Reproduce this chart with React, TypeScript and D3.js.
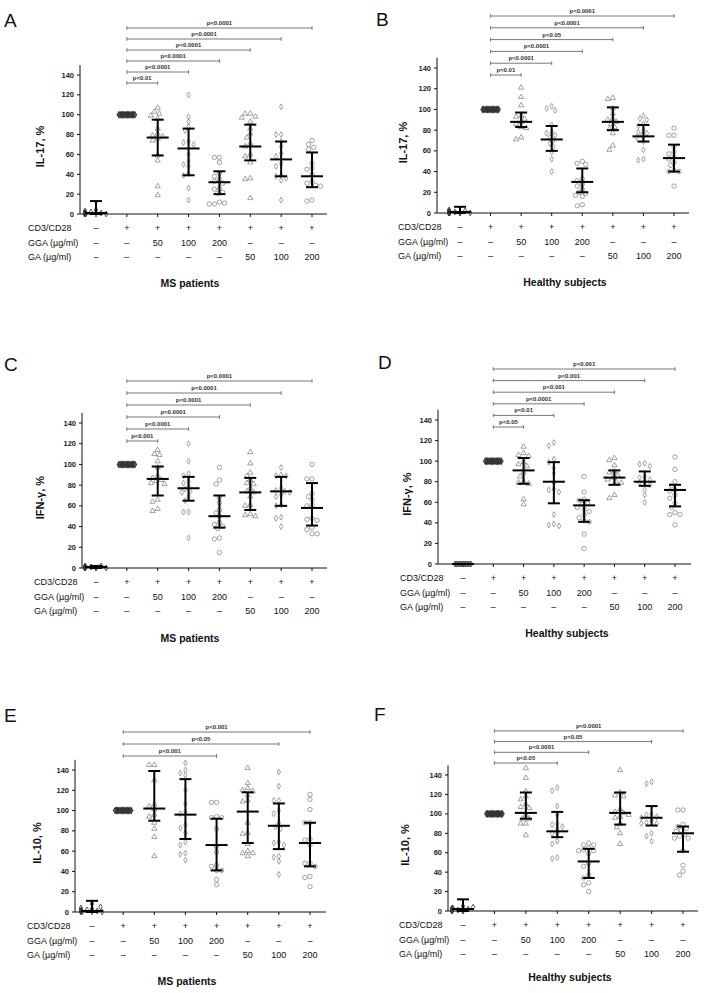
import * as d3 from "d3";

// group order: unstimulated, CD3/CD28, GGA 50/100/200, GA 50/100/200
const shapes = ["diamond", "diamond", "triangle", "diamond", "circle", "triangle", "diamond", "circle"];
const rowLabels = ["CD3/CD28", "GGA (µg/ml)", "GA (µg/ml)"];
const cd3Row = ["–", "+", "+", "+", "+", "+", "+", "+"];
const ggaRow = ["–", "–", "50", "100", "200", "–", "–", "–"];
const gaRow = ["–", "–", "–", "–", "–", "50", "100", "200"];
const yTicks = [0, 20, 40, 60, 80, 100, 120, 140];

const stim = [100, 100, 100, 100, 100, 100, 100, 100, 100, 100, 100, 100, 100, 100];

// A: IL-17, MS patients
const il17MS = [
  [4, 2, 1, 0, 0, 0, 1, 2, 0, 0, 1, 3],
  stim,
  [107, 103, 101, 99, 96, 86, 81, 79, 78, 76, 74, 59, 54, 28, 19],
  [120, 98, 93, 88, 84, 73, 72, 70, 60, 53, 50, 48, 41, 39, 26, 14],
  [57, 57, 52, 41, 38, 35, 33, 31, 26, 25, 22, 21, 12, 10, 11, 10],
  [101, 101, 98, 97, 93, 86, 81, 77, 71, 68, 60, 58, 52, 36, 35, 16],
  [108, 80, 80, 73, 68, 61, 58, 51, 48, 39, 38, 36, 34, 14],
  [74, 70, 67, 65, 51, 46, 45, 40, 33, 31, 29, 28, 14, 13],
];
const il17MSBars = [[1, 0, 13], null, [77, 59, 95], [66, 39, 86], [32, 20, 43], [68, 54, 90], [55, 38, 73], [38, 27, 62]];
const il17MSSig = [[2, "p<0.01"], [3, "p<0.0001"], [4, "p<0.0001"], [5, "p<0.0001"], [6, "p<0.0001"], [7, "p<0.0001"]];

// B: IL-17, healthy subjects
const il17HS = [
  [0, 1, 2, 0, 0, 1, 3, 0, 0, 2, 1, 0],
  stim,
  [121, 112, 104, 94, 93, 91, 88, 86, 83, 82, 73, 71],
  [103, 101, 99, 85, 78, 77, 75, 73, 70, 67, 64, 59, 52, 40],
  [50, 48, 47, 33, 31, 28, 26, 23, 20, 19, 17, 16, 8, 7],
  [111, 110, 101, 96, 91, 90, 88, 86, 83, 81, 77, 65, 61],
  [94, 91, 90, 86, 84, 80, 78, 77, 75, 73, 69, 61, 52, 51],
  [82, 75, 75, 64, 59, 57, 54, 52, 49, 46, 41, 40, 40, 26],
];
const il17HSBars = [[1, 0, 6], null, [88, 83, 97], [71, 60, 84], [30, 20, 43], [88, 80, 102], [74, 69, 85], [53, 40, 66]];
const il17HSSig = [[2, "p<0.01"], [3, "p<0.0001"], [4, "p<0.0001"], [5, "p<0.05"], [6, "p<0.0001"], [7, "p<0.0001"]];

// C: IFN-γ, MS patients
const ifnMS = [
  [0, 1, 2, 1, 0, 0, 1, 2, 0, 1, 0, 1],
  stim,
  [114, 110, 109, 103, 97, 89, 87, 85, 84, 82, 81, 66, 64, 57, 55],
  [120, 103, 91, 89, 84, 82, 79, 76, 74, 73, 69, 65, 54, 54, 29],
  [97, 85, 81, 68, 63, 56, 53, 50, 44, 42, 40, 38, 29, 28, 15],
  [112, 101, 92, 89, 85, 82, 81, 77, 74, 73, 69, 61, 60, 52, 51, 50],
  [97, 90, 89, 89, 77, 75, 74, 73, 71, 69, 61, 60, 49, 48, 40],
  [100, 86, 86, 72, 69, 66, 61, 60, 48, 47, 46, 39, 37, 33, 33],
];
const ifnMSBars = [[1, 0, 2], null, [86, 70, 98], [77, 65, 88], [50, 39, 70], [73, 56, 87], [74, 60, 88], [58, 41, 82]];
const ifnMSSig = [[2, "p<0.001"], [3, "p<0.0001"], [4, "p<0.0001"], [5, "p<0.0001"], [6, "p<0.0001"], [7, "p<0.0001"]];

// D: IFN-γ, healthy subjects
const ifnHS = [
  [0, 0, 0, 0, 0, 0, 0, 0, 0, 0, 0, 0],
  stim,
  [114, 108, 106, 105, 99, 97, 95, 89, 85, 80, 79, 78, 63, 58],
  [118, 115, 102, 99, 93, 88, 79, 73, 72, 70, 48, 39, 38, 37],
  [85, 70, 63, 62, 59, 58, 55, 53, 51, 48, 45, 42, 41, 29, 15],
  [103, 101, 96, 90, 89, 86, 84, 82, 80, 79, 67, 64],
  [98, 97, 95, 85, 84, 82, 80, 79, 77, 72, 67, 60],
  [104, 92, 80, 76, 72, 71, 67, 64, 59, 55, 50, 48, 48, 38],
];
const ifnHSBars = [[0, 0, 0], null, [91, 78, 103], [80, 59, 99], [57, 41, 62], [84, 77, 91], [80, 76, 90], [72, 56, 77]];
const ifnHSSig = [[2, "p<0.05"], [3, "p<0.01"], [4, "p<0.0001"], [5, "p<0.001"], [6, "p<0.001"], [7, "p<0.001"]];

// E: IL-10, MS patients
const il10MS = [
  [8, 3, 2, 1, 0, 0, 1, 2, 0, 4, 1, 5],
  stim,
  [145, 145, 130, 106, 104, 101, 96, 94, 88, 82, 74, 55],
  [147, 140, 137, 135, 120, 107, 99, 97, 86, 83, 78, 69, 66, 58, 57, 51],
  [108, 108, 94, 93, 93, 82, 64, 59, 46, 45, 41, 41, 32, 27],
  [142, 127, 122, 120, 119, 115, 110, 109, 88, 78, 77, 67, 60, 58, 58, 55],
  [138, 124, 110, 110, 100, 97, 88, 84, 82, 69, 68, 66, 55, 54, 50, 37],
  [116, 111, 101, 88, 88, 72, 71, 66, 48, 48, 45, 35, 34, 25],
];
const il10MSBars = [[1, 0, 11], null, [102, 90, 139], [96, 72, 131], [66, 41, 92], [99, 68, 118], [85, 62, 107], [68, 45, 88]];
const il10MSSig = [[4, "p<0.001"], [6, "p<0.05"], [7, "p<0.001"]];

// F: IL-10, healthy subjects
const il10HS = [
  [0, 1, 2, 3, 5, 4, 1, 0, 0, 2, 1, 3],
  stim,
  [147, 137, 123, 118, 115, 110, 107, 106, 99, 95, 95, 90, 90, 78],
  [127, 124, 108, 99, 90, 89, 87, 85, 80, 80, 72, 69, 55, 54],
  [70, 68, 68, 65, 63, 62, 62, 59, 49, 46, 37, 34, 29, 27, 20],
  [145, 122, 119, 118, 105, 102, 101, 99, 97, 96, 90, 86, 80, 69],
  [133, 131, 100, 99, 97, 96, 93, 91, 90, 90, 80, 77, 72],
  [104, 104, 89, 87, 85, 83, 82, 79, 77, 75, 75, 62, 47, 41, 37],
];
const il10HSBars = [[2, 0, 12], null, [101, 95, 122], [82, 76, 102], [51, 34, 64], [101, 89, 122], [96, 88, 108], [80, 61, 87]];
const il10HSSig = [[3, "p<0.05"], [4, "p<0.0001"], [6, "p<0.05"], [7, "p<0.0001"]];

// panel placement (pixels)
const layouts = {
  A: { lx: 4, ly: 27, axisX: 80, y0: 214, y140: 75, g0: 96, g7: 312, xEnd: 327, rowX: 28, tx: 190, ty: 287, ylx: 40, brBottom: 83, brStep: 11 },
  B: { lx: 376, ly: 26, axisX: 437, y0: 213, y140: 68, g0: 460, g7: 674, xEnd: 689, rowX: 398, tx: 565, ty: 286, ylx: 403, brBottom: 75, brStep: 11.8 },
  C: { lx: 4, ly: 371, axisX: 82, y0: 568, y140: 423, g0: 96, g7: 312, xEnd: 327, rowX: 34, tx: 190, ty: 642, ylx: 40, brBottom: 441, brStep: 12 },
  D: { lx: 378, ly: 369, axisX: 438, y0: 564, y140: 420, g0: 463, g7: 675, xEnd: 691, rowX: 400, tx: 567, ty: 637, ylx: 407, brBottom: 427, brStep: 11.6 },
  E: { lx: 4, ly: 722, axisX: 75, y0: 912, y140: 770, g0: 92, g7: 310, xEnd: 326, rowX: 27, tx: 187, ty: 985, ylx: 37, brBottom: 756, brStep: 12 },
  F: { lx: 374, ly: 721, axisX: 448, y0: 911, y140: 775, g0: 463, g7: 683, xEnd: 698, rowX: 399, tx: 570, ty: 981, ylx: 405, brBottom: 763, brStep: 10.7 },
};

const FONT = "Arial, 'Liberation Sans', sans-serif";
const symType = { diamond: d3.symbolDiamond, triangle: d3.symbolTriangle, circle: d3.symbolCircle };
const symSize = { diamond: 10, triangle: 12, circle: 15 };

// simple beeswarm: push overlapping points sideways
function swarm(ys: number[]) {
  if (ys.every((v) => v === ys[0]) && ys.length > 4) {
    return ys.map((_, i) => -8 + (16 * i) / (ys.length - 1));
  }
  const placed: { y: number; dx: number }[] = [];
  return ys.map((py) => {
    let best = 0;
    for (let k = 0; k < 16; k++) {
      const dx = (k % 2 ? -1 : 1) * Math.ceil(k / 2) * 1.7;
      if (placed.every((p) => Math.hypot(p.dx - dx, p.y - py) >= 4.6)) { best = dx; break; }
      best = dx;
    }
    best = Math.max(-11, Math.min(11, best));
    placed.push({ y: py, dx: best });
    return best;
  });
}

function Panel({ L, letter, yLabel, title, data, bars, sig }: any) {
  const y = d3.scaleLinear().domain([0, 140]).range([L.y0, L.y140]);
  const x = d3.scalePoint<number>().domain(d3.range(8)).range([L.g0, L.g7]);
  const rows = [cd3Row, ggaRow, gaRow];
  return (
    <g fontFamily={FONT}>
      <text x={L.lx} y={L.ly} fontSize={19} fill="#111">{letter}</text>

      {/* significance brackets */}
      {sig.map(([to, p]: any, i: number) => {
        const by = L.brBottom - i * L.brStep;
        const x1 = x(1)!, x2 = x(to)!;
        return (
          <g key={i} stroke="#555" strokeWidth={0.8}>
            <line x1={x1} x2={x2} y1={by} y2={by} />
            <line x1={x1} x2={x1} y1={by - 1.8} y2={by + 1.8} />
            <line x1={x2} x2={x2} y1={by - 1.8} y2={by + 1.8} />
            <text x={(x1 + x2) / 2} y={by - 3} textAnchor="middle" fontSize={6} fontWeight="bold" fill="#333" stroke="none">{p}</text>
          </g>
        );
      })}

      {/* y axis */}
      <line x1={L.axisX} x2={L.axisX} y1={y(0)} y2={y(150)} stroke="#111" strokeWidth={1} />
      {yTicks.map((t) => (
        <g key={t}>
          <line x1={L.axisX - 3} x2={L.axisX} y1={y(t)} y2={y(t)} stroke="#111" />
          <text x={L.axisX - 6} y={y(t)} dy="0.35em" textAnchor="end" fontSize={7.5} fontWeight="bold" fill="#222">{t}</text>
        </g>
      ))}
      <text transform={`translate(${L.ylx},${y(68)}) rotate(-90)`} textAnchor="middle" dy="0.35em" fontSize={11} fontWeight="bold" fill="#111">{yLabel}</text>

      {/* x axis */}
      <line x1={L.axisX} x2={L.xEnd} y1={y(0)} y2={y(0)} stroke="#111" strokeWidth={1} />
      {d3.range(8).map((i) => (
        <line key={i} x1={x(i)} x2={x(i)} y1={y(0)} y2={y(0) + 3} stroke="#111" />
      ))}

      {/* points */}
      {data.map((vals: number[], gi: number) => {
        const ys = vals.map((v) => y(v));
        const dxs = swarm(ys);
        const shape = shapes[gi];
        const path = d3.symbol().type((symType as any)[shape]).size((symSize as any)[shape])()!;
        const col = gi < 2 ? "#333" : "#8a8a8a";
        return vals.map((v, i) => (
          <path key={`${gi}-${i}`} d={path} transform={`translate(${x(gi)! + dxs[i]},${ys[i]})`} fill="none" stroke={col} strokeWidth={gi === 1 ? 1.1 : 0.8} />
        ));
      })}

      {/* mean ± error */}
      {bars.map((b: number[] | null, gi: number) => {
        if (!b) return null;
        const cx = x(gi)!;
        return (
          <g key={gi} stroke="#000" strokeWidth={2}>
            <line x1={cx} x2={cx} y1={y(b[1])} y2={y(b[2])} />
            <line x1={cx - 11} x2={cx + 11} y1={y(b[0])} y2={y(b[0])} />
            <line x1={cx - 6} x2={cx + 6} y1={y(b[1])} y2={y(b[1])} />
            <line x1={cx - 6} x2={cx + 6} y1={y(b[2])} y2={y(b[2])} />
          </g>
        );
      })}

      {/* condition table */}
      {rows.map((row, ri) => (
        <g key={ri} fontSize={9} fill="#111">
          <text x={L.rowX} y={L.y0 + 14 + ri * 14.6} dy="0.35em">{rowLabels[ri]}</text>
          {row.map((s, i) => (
            <text key={i} x={x(i)} y={L.y0 + 14 + ri * 14.6} dy="0.35em" textAnchor="middle">{s}</text>
          ))}
        </g>
      ))}
      <text x={L.tx} y={L.ty} textAnchor="middle" fontSize={10.5} fontWeight="bold" fill="#111">{title}</text>
    </g>
  );
}

export default function App() {
  return (
    <svg width={722} height={993} style={{ position: "absolute", left: 0, top: 0, background: "#fff" }}>
      <rect width={722} height={993} fill="#fff" />
      <Panel L={layouts.A} letter="A" yLabel="IL-17, %" title="MS patients" data={il17MS} bars={il17MSBars} sig={il17MSSig} />
      <Panel L={layouts.B} letter="B" yLabel="IL-17, %" title="Healthy subjects" data={il17HS} bars={il17HSBars} sig={il17HSSig} />
      <Panel L={layouts.C} letter="C" yLabel="IFN-γ, %" title="MS patients" data={ifnMS} bars={ifnMSBars} sig={ifnMSSig} />
      <Panel L={layouts.D} letter="D" yLabel="IFN-γ, %" title="Healthy subjects" data={ifnHS} bars={ifnHSBars} sig={ifnHSSig} />
      <Panel L={layouts.E} letter="E" yLabel="IL-10, %" title="MS patients" data={il10MS} bars={il10MSBars} sig={il10MSSig} />
      <Panel L={layouts.F} letter="F" yLabel="IL-10, %" title="Healthy subjects" data={il10HS} bars={il10HSBars} sig={il10HSSig} />
    </svg>
  );
}
